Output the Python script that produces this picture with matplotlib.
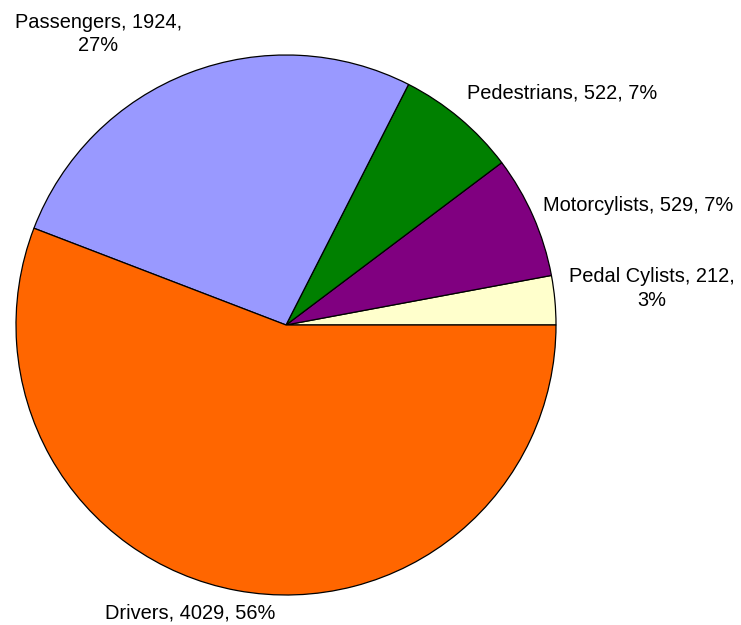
import matplotlib
matplotlib.use('Agg')
import matplotlib.pyplot as plt

plt.rcParams['font.family'] = ['Liberation Sans', 'DejaVu Sans']

# casualty counts by road user group
categories = ['Pedal Cylists', 'Motorcylists', 'Pedestrians', 'Passengers', 'Drivers']
values = [212, 529, 522, 1924, 4029]
colors = ['#FFFFCC', '#800080', '#008000', '#9999FF', '#FF6600']

# where each label sits (data units, pie radius = 1) and how it is aligned
label_pos = [(1.356, 0.135), (0.952, 0.444), (0.670, 0.859), (-0.696, 1.078), (-0.356, -1.067)]
label_ha = ['center', 'left', 'left', 'center', 'center']
wrap = [True, False, False, True, False]

W, H = 741, 625
CX, CY, R = 286, 325, 270

fig = plt.figure(figsize=(W / 100, H / 100), dpi=100)
fig.patch.set_facecolor('white')
ax = fig.add_axes([0, 0, 1, 1])

ax.pie(values, colors=colors, startangle=0, counterclock=True,
       wedgeprops=dict(edgecolor='black', linewidth=0.9))

ax.set_xlim(-CX / R, (W - CX) / R)
ax.set_ylim((CY - H) / R, CY / R)
ax.set_aspect('equal', adjustable='datalim')

total = sum(values)
for name, v, (x, y), ha, br in zip(categories, values, label_pos, label_ha, wrap):
    pct = round(100 * v / total)
    sep = '\n' if br else ' '
    txt = f'{name}, {v},{sep}{pct}%'
    ax.text(x, y, txt, ha=ha, va='center', multialignment='center',
            fontsize=14.4, color='black', linespacing=1.3)

fig.savefig('out.png', dpi=100, facecolor='white')
